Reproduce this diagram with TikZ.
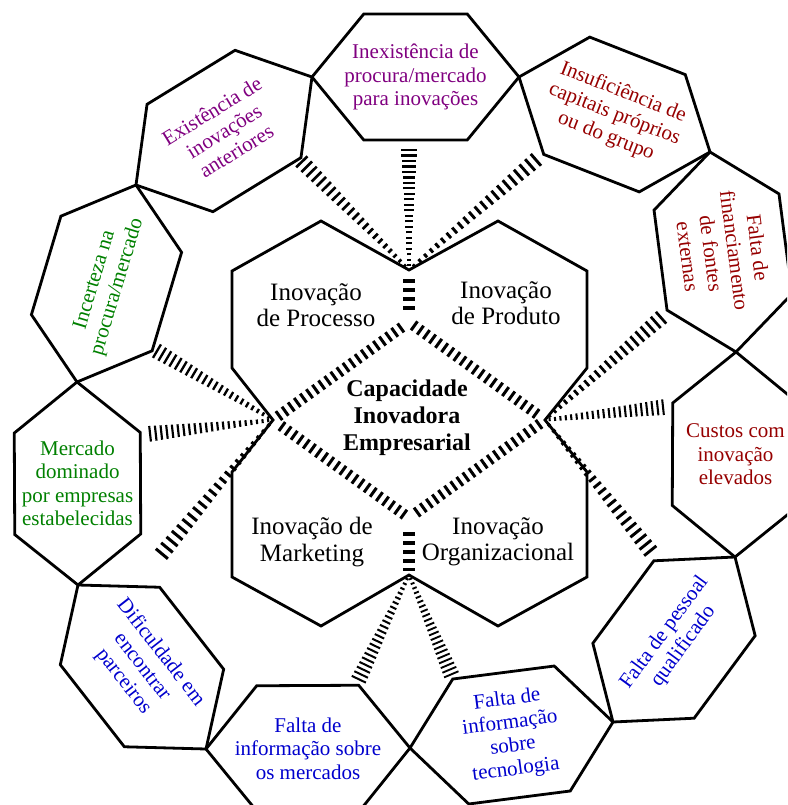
\documentclass[tikz,border=0pt]{standalone}
\usepackage{fontspec}
\setmainfont{Liberation Serif}
\usetikzlibrary{calc}

\definecolor{lilas}{RGB}{128,0,128}
\definecolor{vinho}{RGB}{150,0,0}
\definecolor{azul}{RGB}{0,0,205}
\definecolor{verde}{RGB}{0,128,0}

\begin{document}
\begin{tikzpicture}[x=1pt, y=-1pt,
        hexline/.style={line width=2.8pt},
        outtext/.style={align=center, inner sep=0pt, font=\fontsize{21}{23.5}\selectfont},
        intext/.style={align=center, inner sep=0pt, font=\fontsize{25}{26.5}\selectfont},
        coretext/.style={align=center, inner sep=0pt, font=\fontsize{24}{27}\selectfont\bfseries},
        tielink/.style={line width=11pt, dash pattern=on 3pt off 4.5pt},
        tiestub/.style={line width=12pt, dash pattern=on 3.5pt off 5.5pt}
      ]
        \useasboundingbox (0,0) rectangle (787,805);
        \clip (0,0) rectangle (787,805);

        % ring of barriers
        \coordinate (p1) at (312,77);
        \coordinate (p2) at (519,77);
        \coordinate (p3) at (710,152);
        \coordinate (p4) at (736,352);
        \coordinate (p5) at (735,557);
        \coordinate (p6) at (613,722);
        \coordinate (p7) at (410,748);
        \coordinate (p8) at (206,749);
        \coordinate (p9) at (78,585);
        \coordinate (p10) at (77,382);
        \coordinate (p11) at (136,185);

        \foreach \a/\b in {p1/p2,p2/p3,p3/p4,p4/p5,p5/p6,p6/p7,p7/p8,p8/p9,p9/p10,p10/p11,p11/p1}
          \draw[hexline] (\a) -- ($(\a)!0.25!(\b)!63pt!90:(\b)$) -- ($(\a)!0.75!(\b)!63pt!90:(\b)$)
            -- (\b) -- ($(\a)!0.75!(\b)!63pt!-90:(\b)$) -- ($(\a)!0.25!(\b)!63pt!-90:(\b)$) -- cycle;

        \node[outtext, text=lilas] (inexist) at ($(p1)!0.5!(p2)$) {Inexistência de\\procura/mercado\\para inovações};
        \node[outtext, text=vinho, rotate=-21.4] (insuf) at ($(p2)!0.5!(p3)$) {Insuficiência de\\capitais próprios\\ou do grupo};
        \node[outtext, text=vinho, rotate=-82.6] (financ) at ($(p3)!0.5!(p4)$) {Falta de\\financiamento\\de fontes\\externas};
        \node[outtext, text=vinho] (custos) at ($(p4)!0.5!(p5)$) {Custos com\\inovação\\elevados};
        \node[outtext, text=azul, rotate=53.8] (pessoal) at ($(p5)!0.5!(p6)$) {Falta de pessoal\\qualificado};
        \node[outtext, text=azul, rotate=7.3] (tecno) at ($(p6)!0.5!(p7)$) {Falta de\\informação\\sobre\\tecnologia};
        \node[outtext, text=azul] (mercados) at ($(p7)!0.5!(p8)$) {Falta de\\informação sobre\\os mercados};
        \node[outtext, text=azul, rotate=-52] (dific) at ($(p8)!0.5!(p9)$) {Dificuldade em\\encontrar\\parceiros};
        \node[outtext, text=verde] (merc) at ($(p9)!0.5!(p10)$) {Mercado\\dominado\\por empresas\\estabelecidas};
        \node[outtext, text=verde, rotate=73.3] (incert) at ($(p10)!0.5!(p11)$) {Incerteza na\\procura/mercado};
        \node[outtext, text=lilas, rotate=31.5] (exist) at ($(p11)!0.5!(p1)$) {Existência de\\inovações\\anteriores};

        % central block
        \coordinate (top) at (409,270);
        \coordinate (left) at (273,420);
        \coordinate (right) at (545,420);
        \coordinate (bottom) at (409,575);
        \coordinate (dtop) at (409,322);
        \coordinate (dbot) at (409,518);

        \draw[hexline] (232,271) -- (321,221) -- (top) -- (498,221) -- (587,271) -- (587,368) -- (right)
          -- (587,472) -- (587,577) -- (498,626) -- (bottom) -- (321,626) -- (232,577) -- (232,472)
          -- (left) -- (232,368) -- cycle;

        \draw[tielink, shorten <=6pt, shorten >=5pt] (left) -- (dtop);
        \draw[tielink, shorten <=5pt, shorten >=6pt] (dtop) -- (right);
        \draw[tielink, shorten <=6pt, shorten >=5pt] (right) -- (dbot);
        \draw[tielink, shorten <=5pt, shorten >=6pt] (dbot) -- (left);
        \draw[tiestub, shorten <=9pt, shorten >=9pt] (top) -- (dtop);
        \draw[tiestub, shorten <=14pt, shorten >=4pt] (dbot) -- (bottom);

        \node[intext] (processo) at (316,305) {Inovação\\de Processo};
        \node[intext] (produto) at (506,303) {Inovação\\de Produto};
        \node[intext] (marketing) at (312,542) {Inovação de\\Marketing};
        \node[intext] (organiz) at (498,542) {Inovação\\Organizacional};
        \node[coretext] (capacidade) at (407,418) {Capacidade\\Inovadora\\Empresarial};

        % hatched rays to each barrier
        \coordinate (rinex) at (409,148);
        \coordinate (rexist) at (300,160);
        \coordinate (rinsuf) at (538,158);
        \coordinate (rincert) at (155,350);
        \coordinate (rmerc) at (148,434);
        \coordinate (rdific) at (160,556);
        \coordinate (rfinanc) at (663,316);
        \coordinate (rcustos) at (665,407);
        \coordinate (rpessoal) at (652,553);
        \coordinate (rmercados) at (358,681);
        \coordinate (rtecno) at (452,676);

        \foreach \from/\to in {top/rinex, top/rexist, top/rinsuf, left/rincert, left/rmerc, left/rdific,
                               right/rfinanc, right/rcustos, right/rpessoal, bottom/rmercados, bottom/rtecno}
          \foreach \k in {0,...,21} {
            \pgfmathsetmacro{\posa}{0.03+0.045*\k}
            \pgfmathsetmacro{\posb}{\posa+0.017}
            \pgfmathsetmacro{\barw}{3+13*\posa}
            \draw[line width=\barw pt] ($(\from)!\posa!(\to)$) -- ($(\from)!\posb!(\to)$);
          }
      \end{tikzpicture}
\end{document}
